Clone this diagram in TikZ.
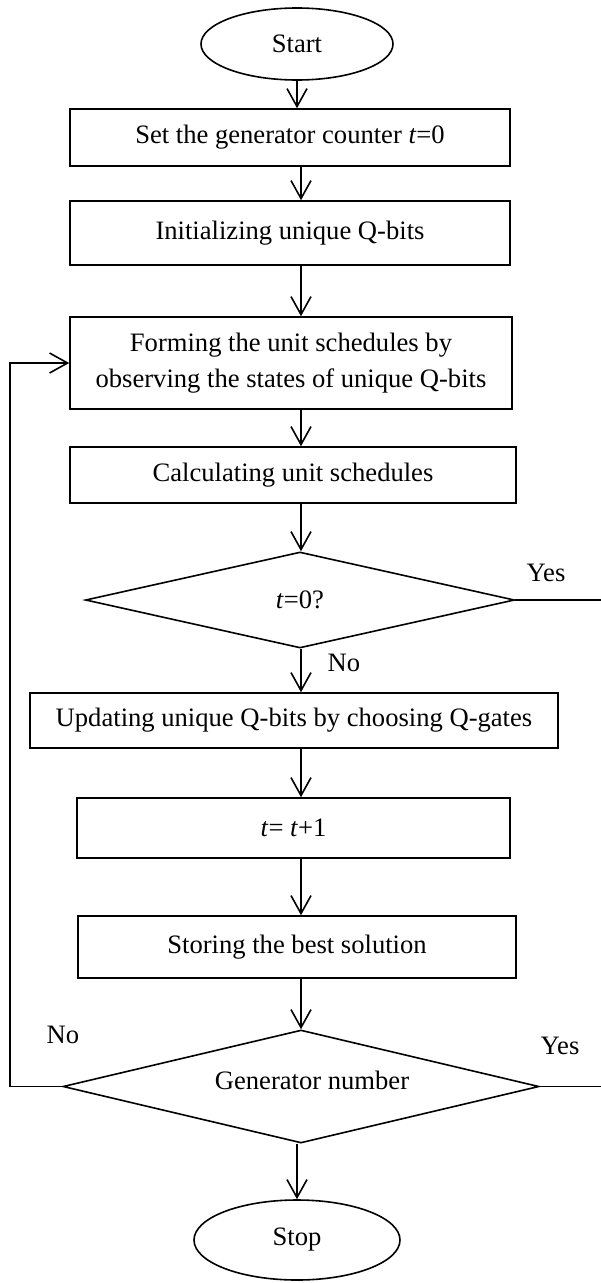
\documentclass[tikz,border=0pt]{standalone}
\usepackage{fontspec}
\setmainfont{Liberation Serif}
\usetikzlibrary{arrows.meta,shapes.geometric}

\begin{document}
\begin{tikzpicture}[x=1pt,y=-1pt,
    every node/.style={font=\fontsize{26.6}{36}\selectfont},
    flowline/.style={line width=1.6pt},
    arr/.style={flowline,-{Straight Barb[length=18pt,width=20pt,line width=1.6pt]}},
    stepbox/.style={draw,flowline,rectangle,inner sep=0pt,align=center},
    terminal/.style={draw,flowline,ellipse,inner sep=0pt},
    decision/.style={draw,flowline,diamond,inner sep=0pt,aspect=4.2}]
    \useasboundingbox (0,0) rectangle (601,1283);
    % boxes, top to bottom
    \node[terminal,minimum width=192pt,minimum height=72pt] (start) at (297,44) {Start};
    \node[stepbox,minimum width=440pt,minimum height=57pt] (set) at (290,137.5) {Set the generator counter \textit{t}=0};
    \node[stepbox,minimum width=440pt,minimum height=64pt] (init) at (290,233) {Initializing unique Q-bits};
    \node[stepbox,minimum width=442pt,minimum height=92pt] (form) at (291,363) {Forming the unit schedules by\\observing the states of unique Q-bits};
    \node[stepbox,minimum width=446pt,minimum height=56pt] (calc) at (293,475) {Calculating unit schedules};
    \node[decision,minimum width=429pt,minimum height=96pt] (tzero) at (300,600) {\textit{t}=0?};
    \node[stepbox,minimum width=528pt,minimum height=55pt] (update) at (294,720.5) {Updating unique Q-bits by choosing Q-gates};
    \node[stepbox,minimum width=433pt,minimum height=60pt] (incr) at (293.5,828) {\textit{t}= \textit{t}+1};
    \node[stepbox,minimum width=438pt,minimum height=62pt] (store) at (297,947) {Storing the best solution};
    \node[decision,minimum width=476pt,minimum height=113pt] (gen) at (301,1086.5) {\hspace*{22pt}\raisebox{12pt}{Generator number}};
    \node[terminal,minimum width=206pt,minimum height=80pt] (stop) at (297,1240) {Stop};
    % branch labels
    \node (yesa) at (546,573) {Yes};
    \node (noa) at (344,663) {No};
    \node (nob) at (63,1035) {No};
    \node (yesb) at (560,1046) {Yes};
    \coordinate (axis) at (301,0);
    \coordinate (edge) at (601,0);
    \coordinate (loop) at (10,0);
    % connectors
    \draw[arr] (start.south) -- (start.south |- set.north);
    \foreach \a/\b in {set/init,init/form,form/calc,calc/tzero,tzero/update,update/incr,incr/store,store/gen}
      \draw[arr] (\a.south -| axis) -- (\b.north -| axis);
    \draw[arr] (gen.south -| stop) -- (stop.north);
    \draw[flowline] (tzero.east) -- (tzero.east -| edge);
    \draw[flowline] (gen.east) -- (gen.east -| edge);
    \draw[arr] (gen.west) -- (gen.west -| loop) |- (form.west);
\end{tikzpicture}
\end{document}
